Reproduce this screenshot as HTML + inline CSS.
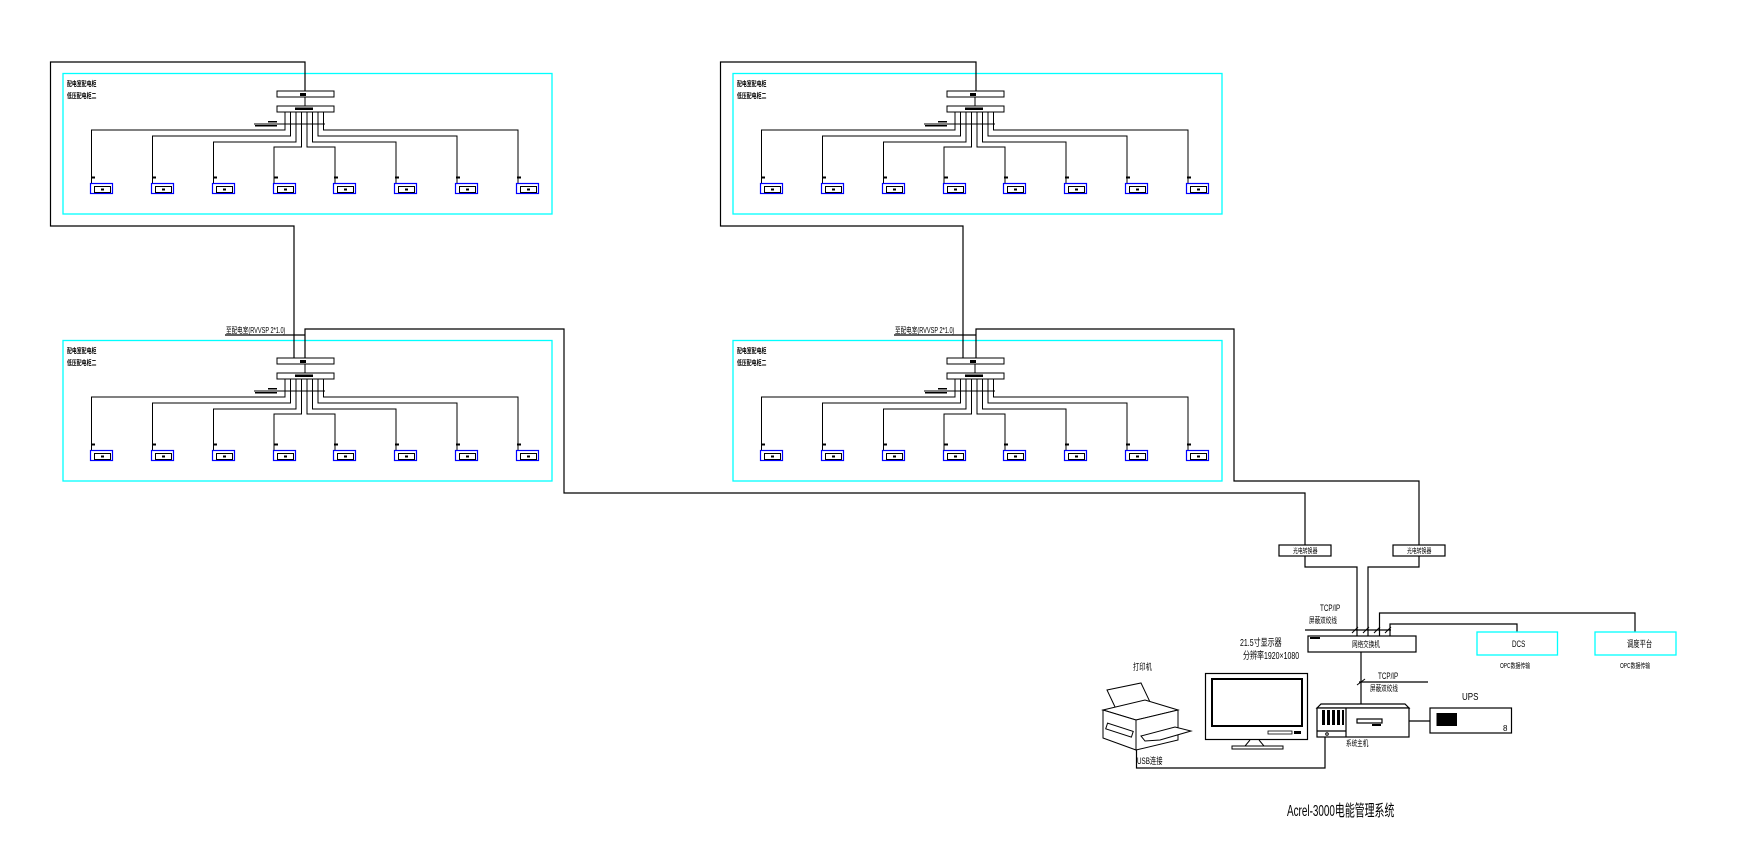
<!DOCTYPE html>
<html><head><meta charset="utf-8"><style>
html,body{margin:0;padding:0;background:#fff;}
svg{display:block;}
text{font-family:"Liberation Sans","Noto Sans CJK SC",sans-serif;fill:#000;}
</style></head><body>
<svg width="1740" height="849" viewBox="0 0 1740 849" xmlns="http://www.w3.org/2000/svg">
<defs>
<g id="panel">
  <rect x="63" y="73.5" width="489" height="140.5" fill="none" stroke="#00ffff" stroke-width="1.3"/>
  <text x="67" y="86" font-size="7" font-weight="bold" transform="translate(67 0) scale(0.7 1) translate(-67 0)">配电室配电柜</text>
  <text x="67" y="98" font-size="7" font-weight="bold" transform="translate(67 0) scale(0.7 1) translate(-67 0)">低压配电柜二</text>
  <rect x="277" y="91" width="57" height="6" fill="#fff" stroke="#000" stroke-width="1"/>
  <rect x="277" y="106" width="57" height="6" fill="#fff" stroke="#000" stroke-width="1"/>
  <rect x="300" y="93" width="6" height="3" fill="#000"/>
  <rect x="295" y="107.5" width="18" height="2.5" fill="#000"/>
  <line x1="305" y1="97" x2="305" y2="106" stroke="#000"/>
  <line x1="254" y1="124" x2="325" y2="124" stroke="#000"/>
  <rect x="268" y="121" width="9" height="1.5" fill="#000"/>
  <rect x="255" y="125" width="22" height="1.5" fill="#000"/>
  <g stroke="#000" stroke-width="1" fill="none">
    <polyline points="285,112 285,130 91.5,130 91.5,183"/>
    <polyline points="290.5,112 290.5,136 152.5,136 152.5,183"/>
    <polyline points="296,112 296,142 213.5,142 213.5,183"/>
    <polyline points="301.5,112 301.5,147 274,147 274,183"/>
    <polyline points="307,112 307,147 335,147 335,183"/>
    <polyline points="312.5,112 312.5,142 396,142 396,183"/>
    <polyline points="318,112 318,136 457,136 457,183"/>
    <polyline points="323.5,112 323.5,130 518,130 518,183"/>
  </g>
  <g id="dev">
    <rect x="90.5" y="183.5" width="22" height="10" fill="none" stroke="#0000ff" stroke-width="1.2"/>
    <rect x="94.5" y="186.5" width="16" height="6" fill="none" stroke="#000" stroke-width="1"/>
    <rect x="101" y="188.5" width="3" height="2" fill="#000"/>
    <rect x="91" y="176.5" width="4" height="2" fill="#000"/>
  </g>
  <use href="#dev" x="61"/><use href="#dev" x="122"/><use href="#dev" x="183"/>
  <use href="#dev" x="243"/><use href="#dev" x="304"/><use href="#dev" x="365"/><use href="#dev" x="426"/>
</g>
</defs>
<use href="#panel"/>
<use href="#panel" x="670"/>
<use href="#panel" y="267"/>
<use href="#panel" x="670" y="267"/>

<g stroke="#000" stroke-width="1.2" fill="none">
  <polyline points="305,91 305,62 50.5,62 50.5,226 294,226 294,358"/>
  <polyline points="305,358 305,329 564,329 564,493 1305,493 1305,545"/>
  <polyline points="976,91 976,62 720.5,62 720.5,226 963,226 963,358"/>
  <polyline points="976,358 976,329 1234,329 1234,481 1419,481 1419,545"/>
  <line x1="225" y1="335" x2="305" y2="335"/>
  <line x1="894" y1="335" x2="976" y2="335"/>
</g>
<text x="226" y="333" font-size="8" transform="translate(226 0) scale(0.7 1) translate(-226 0)">至配电室(RVVSP 2*1.0)</text>
<text x="895" y="333" font-size="8" transform="translate(895 0) scale(0.7 1) translate(-895 0)">至配电室(RVVSP 2*1.0)</text>

<!-- converters -->
<g stroke="#000" stroke-width="1.2" fill="#fff">
  <rect x="1279" y="545" width="52" height="11"/>
  <rect x="1393" y="545" width="52" height="11"/>
  <rect x="1308" y="636" width="108" height="16"/>
</g>
<text x="1293" y="553" font-size="7" transform="translate(1293 0) scale(0.7 1) translate(-1293 0)">光电转换器</text>
<text x="1407" y="553" font-size="7" transform="translate(1407 0) scale(0.7 1) translate(-1407 0)">光电转换器</text>
<text x="1352" y="647" font-size="8" transform="translate(1352 0) scale(0.7 1) translate(-1352 0)">网络交换机</text>
<rect x="1310" y="637" width="10" height="2" fill="#000"/>
<g stroke="#000" stroke-width="1.2" fill="none">
  <polyline points="1305,556 1305,567 1357,567 1357,636"/>
  <polyline points="1419,556 1419,567 1368,567 1368,636"/>
  <polyline points="1379.5,636 1379.5,613 1635,613 1635,632"/>
  <polyline points="1390,636 1390,624 1517,624 1517,632"/>
  <line x1="1305" y1="630" x2="1391" y2="630"/>
  <line x1="1361" y1="652" x2="1361" y2="708"/>
  <line x1="1359" y1="682" x2="1428" y2="682"/>
  <line x1="1409" y1="721" x2="1430" y2="721"/>
  <polyline points="1136.5,750 1136.5,768 1325,768 1325,737"/>
</g>
<g stroke="#000" stroke-width="1">
  <line x1="1352" y1="633" x2="1358" y2="627"/>
  <line x1="1363" y1="633" x2="1369" y2="627"/>
  <line x1="1374" y1="633" x2="1380" y2="627"/>
  <line x1="1385" y1="633" x2="1391" y2="627"/>
  <line x1="1357" y1="685" x2="1365" y2="679"/>
</g>
<text x="1320" y="611" font-size="9" transform="translate(1320 0) scale(0.7 1) translate(-1320 0)">TCP/IP</text>
<text x="1309" y="623" font-size="8" transform="translate(1309 0) scale(0.7 1) translate(-1309 0)">屏蔽双绞线</text>
<text x="1378" y="679" font-size="9" transform="translate(1378 0) scale(0.7 1) translate(-1378 0)">TCP/IP</text>
<text x="1370" y="691" font-size="8" transform="translate(1370 0) scale(0.7 1) translate(-1370 0)">屏蔽双绞线</text>

<rect x="1477" y="632" width="80.5" height="23" fill="none" stroke="#00ffff" stroke-width="1.3"/>
<rect x="1595" y="632" width="81" height="23" fill="none" stroke="#00ffff" stroke-width="1.3"/>
<text x="1512" y="647" font-size="9" transform="translate(1512 0) scale(0.7 1) translate(-1512 0)">DCS</text>
<text x="1627" y="647" font-size="9" transform="translate(1627 0) scale(0.7 1) translate(-1627 0)">调度平台</text>
<text x="1500" y="668" font-size="7" transform="translate(1500 0) scale(0.7 1) translate(-1500 0)">OPC数据传输</text>
<text x="1620" y="668" font-size="7" transform="translate(1620 0) scale(0.7 1) translate(-1620 0)">OPC数据传输</text>

<!-- host -->
<g stroke="#000" stroke-width="1.2" fill="#fff">
  <polygon points="1317,708 1321,704 1405,704 1409,708"/>
  <rect x="1317" y="708" width="92" height="29"/>
  <line x1="1317" y1="731" x2="1346" y2="731"/>
  <line x1="1346" y1="708" x2="1346" y2="737"/>
  <rect x="1357" y="719" width="25" height="4"/>
  <rect x="1430" y="708" width="81.5" height="25"/>
</g>
<g fill="#000">
  <rect x="1322" y="710" width="3" height="15"/><rect x="1327" y="710" width="3" height="15"/>
  <rect x="1332" y="710" width="3" height="15"/><rect x="1337" y="710" width="3" height="15"/>
  <rect x="1342" y="710" width="2" height="15"/>
  <rect x="1436.5" y="713" width="20.5" height="13"/>
  <rect x="1372" y="724" width="9" height="2"/>
</g>
<circle cx="1327" cy="734" r="1.3" fill="none" stroke="#000"/>
<text x="1346" y="746" font-size="8" transform="translate(1346 0) scale(0.7 1) translate(-1346 0)">系统主机</text>
<text x="1462" y="700" font-size="10" transform="translate(1462 0) scale(0.8 1) translate(-1462 0)">UPS</text>
<text x="1503" y="731" font-size="8">8</text>

<!-- monitor -->
<rect x="1205.5" y="673.5" width="102" height="66" fill="none" stroke="#000" stroke-width="1.2"/>
<rect x="1212" y="679" width="90" height="47" fill="none" stroke="#000" stroke-width="2"/>
<rect x="1268" y="731" width="24" height="3" fill="none" stroke="#000" stroke-width="0.8"/>
<rect x="1294" y="731" width="7" height="3" fill="#000"/>
<polyline points="1250,740 1245,746 1264,746 1259,740" fill="none" stroke="#000"/>
<rect x="1232" y="746" width="51" height="3" fill="none" stroke="#000"/>
<text x="1240" y="646" font-size="10" transform="translate(1240 0) scale(0.7 1) translate(-1240 0)">21.5寸显示器</text>
<text x="1243" y="659" font-size="10" transform="translate(1243 0) scale(0.7 1) translate(-1243 0)">分辨率1920×1080</text>

<!-- printer -->
<g stroke="#000" stroke-width="1" fill="#fff">
  <polygon points="1107,690 1141,683 1150,702 1116,709"/>
  <polygon points="1103,710 1145,700 1178,710 1136,720"/>
  <polygon points="1103,710 1136,720 1136,750 1103,738"/>
  <polygon points="1136,720 1178,710 1178,740 1136,750"/>
  <polygon points="1141,736 1175,727 1191,731 1160,740 1145,741"/>
  <rect x="1106" y="727" width="27" height="6" transform="rotate(18 1119 730)"/>
</g>
<text x="1133" y="670" font-size="9" transform="translate(1133 0) scale(0.7 1) translate(-1133 0)">打印机</text>
<text x="1137" y="764" font-size="9" transform="translate(1137 0) scale(0.7 1) translate(-1137 0)">USB连接</text>

<text x="1287" y="816" font-size="16" transform="translate(1287 0) scale(0.62 1) translate(-1287 0)">Acrel-3000电能管理系统</text>
</svg>
</body></html>
